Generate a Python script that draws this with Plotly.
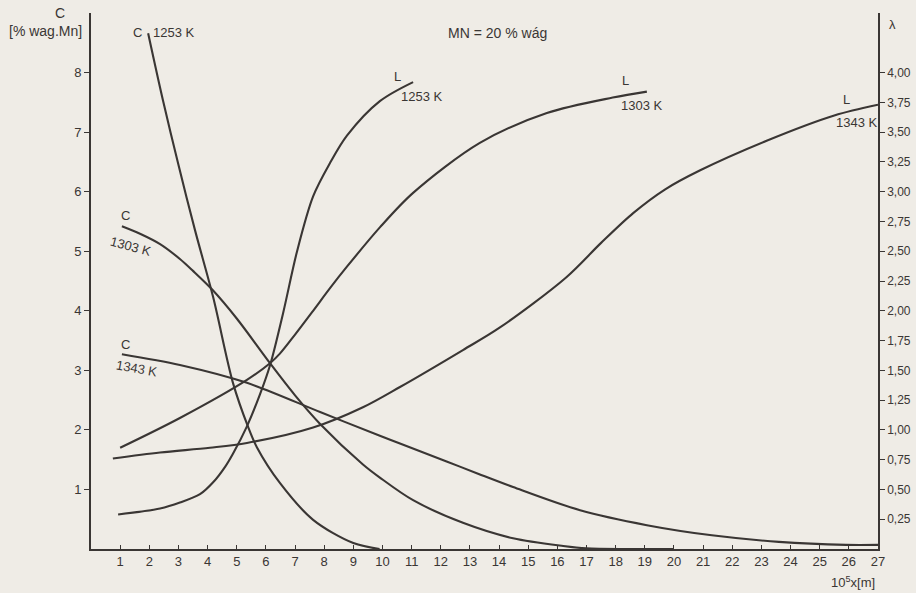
import plotly.graph_objects as go

# Distance axis (10^5 x [m])
x_ticks = list(range(1, 28))

# Manganese concentration C [% wag. Mn]
c1253_x = [1.96, 2.47, 3.0, 3.57, 4.19, 4.87, 5.39, 5.69, 6.48, 7.62, 9.0, 9.9]
c1253_y = [8.66, 7.53, 6.45, 5.35, 4.23, 2.79, 2.05, 1.71, 1.11, 0.49, 0.10, 0.0]

c1303_x = [1.06, 1.7, 2.37, 3.05, 3.5, 4.15, 5.0, 6.14, 7.0, 7.86, 9.33, 9.91, 11.05, 12.76, 14.48, 16.2, 17.0, 18.5, 20.0]
c1303_y = [5.42, 5.29, 5.12, 4.87, 4.67, 4.36, 3.87, 3.12, 2.58, 2.10, 1.42, 1.20, 0.82, 0.44, 0.18, 0.05, 0.01, 0.0, 0.0]

c1343_x = [1.06, 3.05, 5.35, 7.86, 9.91, 10.6, 12.2, 13.3, 14.48, 16.78, 19.07, 21.3, 23.6, 25.9, 27.0]
c1343_y = [3.27, 3.09, 2.79, 2.30, 1.90, 1.77, 1.47, 1.26, 1.04, 0.65, 0.40, 0.23, 0.12, 0.07, 0.07]

# Thermal conductivity lambda (right axis)
l1253_x = [0.93, 2.37, 3.05, 3.74, 4.19, 4.6, 4.87, 5.35, 5.8, 6.14, 6.59, 7.07, 7.62, 8.2, 8.78, 9.91, 11.05]
l1253_y = [0.29, 0.34, 0.39, 0.46, 0.56, 0.69, 0.80, 1.03, 1.30, 1.54, 1.98, 2.50, 2.96, 3.24, 3.47, 3.76, 3.92]

l1303_x = [1.0, 3.05, 5.35, 6.14, 6.48, 7.0, 7.62, 8.2, 8.78, 9.91, 11.05, 13.34, 15.64, 17.9, 19.07]
l1303_y = [0.85, 1.10, 1.42, 1.56, 1.64, 1.80, 2.00, 2.19, 2.37, 2.70, 2.99, 3.41, 3.66, 3.79, 3.84]

l1343_x = [0.75, 2.37, 4.08, 5.35, 7.62, 9.33, 10.6, 12.76, 14.03, 16.3, 17.5, 18.6, 19.7, 20.9, 23.2, 25.5, 27.0]
l1343_y = [0.76, 0.81, 0.85, 0.89, 1.02, 1.19, 1.36, 1.67, 1.86, 2.28, 2.57, 2.82, 3.02, 3.18, 3.43, 3.64, 3.73]

c_ticks = [1, 2, 3, 4, 5, 6, 7, 8]
lam_ticks = [0.25, 0.5, 0.75, 1.0, 1.25, 1.5, 1.75, 2.0, 2.25, 2.5, 2.75, 3.0, 3.25, 3.5, 3.75, 4.0]
lam_tick_text = ["0,25", "0,50", "0,75", "1,00", "1,25", "1,50", "1,75", "2,00",
                 "2,25", "2,50", "2,75", "3,00", "3,25", "3,50", "3,75", "4,00"]

INK = "#3a3634"
PAPER = "#efece6"
FONT = "Liberation Sans, Arial, sans-serif"

fig = go.Figure()

line_style = dict(color=INK, width=2.1, shape="spline", smoothing=0.9)

for xs, ys in [(c1253_x, c1253_y), (c1303_x, c1303_y), (c1343_x, c1343_y)]:
    fig.add_trace(go.Scatter(x=xs, y=ys, mode="lines", line=line_style,
                             yaxis="y", hoverinfo="skip"))

for xs, ys in [(l1253_x, l1253_y), (l1303_x, l1303_y), (l1343_x, l1343_y)]:
    fig.add_trace(go.Scatter(x=xs, y=ys, mode="lines", line=line_style,
                             yaxis="y2", hoverinfo="skip"))

txt = dict(family=FONT, size=13, color=INK)
big = dict(family=FONT, size=14, color=INK)


def label(x, y, text, xanchor="center", angle=0, size=13):
    fig.add_annotation(x=x, y=y, xref="x", yref="y", text=text, showarrow=False,
                       xanchor=xanchor, yanchor="middle", textangle=angle,
                       font=dict(family=FONT, size=size, color=INK))


# curve labels
label(1.82, 8.67, "C", xanchor="right")
label(2.05, 8.67, "1253 K", xanchor="left")
label(10.53, 7.94, "L")
label(10.55, 7.60, "1253 K", xanchor="left")
label(18.35, 7.86, "L")
label(18.1, 7.45, "1303 K", xanchor="left")
label(25.93, 7.55, "L")
label(25.5, 7.16, "1343 K", xanchor="left")
label(1.17, 5.60, "C")
label(1.38, 5.08, "1303 K", angle=15)
label(1.17, 3.44, "C")
label(1.58, 3.03, "1343 K", angle=10)
label(13.96, 8.66, "MN = 20 % wág", size=14)

# axis titles
fig.add_annotation(x=-0.039, y=1.0, xref="paper", yref="paper", text="C",
                   showarrow=False, font=big, xanchor="center", yanchor="middle")
fig.add_annotation(x=-0.058, y=0.966, xref="paper", yref="paper", text="[% wag.Mn]",
                   showarrow=False, font=big, xanchor="center", yanchor="middle")
fig.add_annotation(x=1.019, y=0.978, xref="paper", yref="paper", text="λ",
                   showarrow=False, font=txt, xanchor="center", yanchor="middle")
fig.add_annotation(x=0.968, y=-0.062, xref="paper", yref="paper",
                   text="10<sup>5</sup>x[m]", showarrow=False, font=txt,
                   xanchor="center", yanchor="middle")

fig.update_layout(
    width=916, height=593,
    margin=dict(l=91, r=38, t=13, b=44, autoexpand=False),
    paper_bgcolor=PAPER, plot_bgcolor=PAPER,
    showlegend=False,
    font=txt,
    xaxis=dict(range=[0, 27], tickvals=x_ticks, ticks="inside", ticklen=4,
               tickcolor=INK, showline=True, linecolor=INK, linewidth=1.6,
               showgrid=False, zeroline=False, tickfont=txt, automargin=False),
    yaxis=dict(range=[0, 9], tickvals=c_ticks, ticks="outside", ticklen=5,
               tickcolor=INK, showline=True, linecolor=INK, linewidth=1.6,
               showgrid=False, zeroline=False, tickfont=txt, automargin=False),
    yaxis2=dict(range=[0, 4.5], overlaying="y", side="right", tickvals=lam_ticks,
                ticktext=lam_tick_text, ticks="outside", ticklen=5, tickcolor=INK,
                showline=True, linecolor=INK, linewidth=1.6, showgrid=False,
                zeroline=False, automargin=False,
                tickfont=dict(family=FONT, size=12, color=INK)),
)

fig.write_html("out.html")
